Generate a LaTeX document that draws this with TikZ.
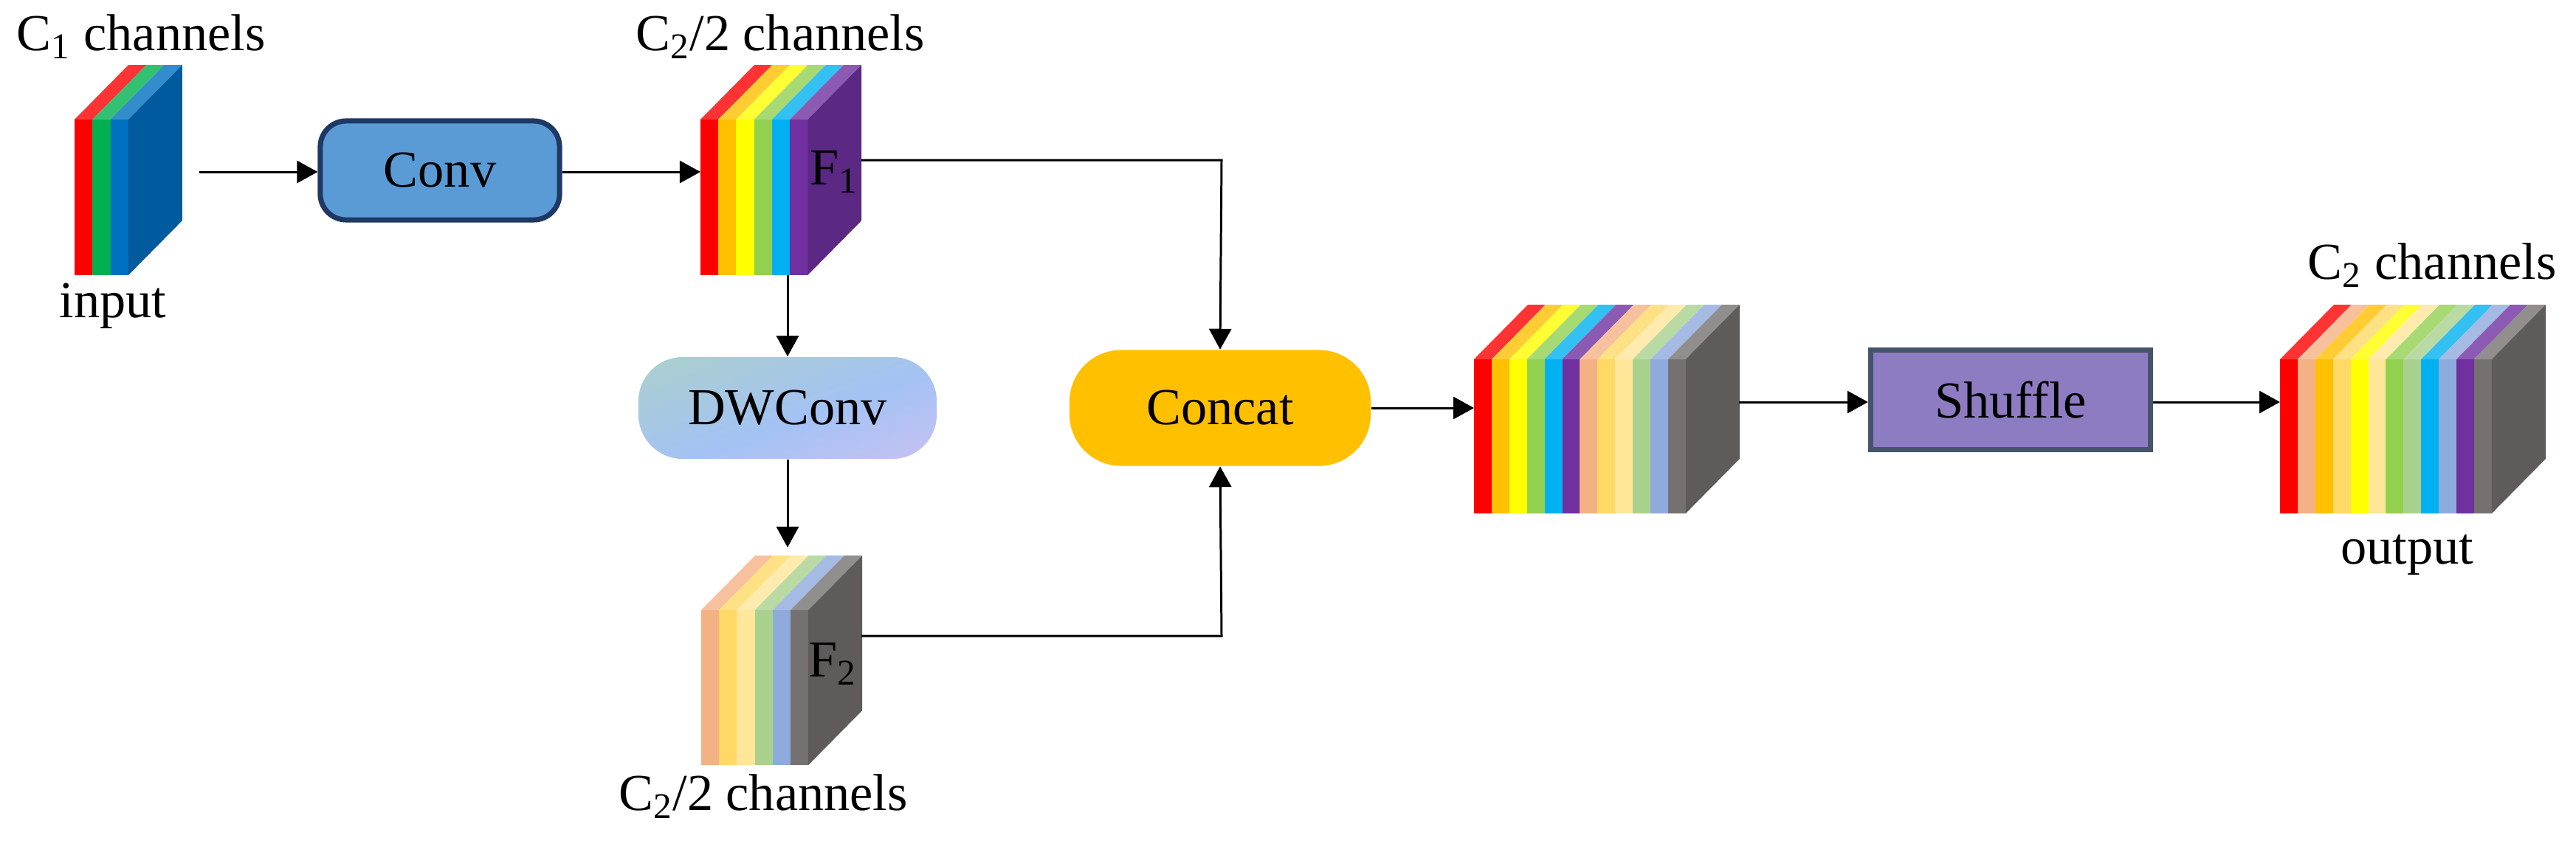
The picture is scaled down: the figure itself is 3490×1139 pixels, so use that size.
\documentclass[tikz,border=0pt]{standalone}
\usepackage{fontspec}
\setmainfont{Liberation Serif}
\usetikzlibrary{arrows.meta}
\definecolor{cR}{HTML}{FF0000}\definecolor{cO}{HTML}{FFC000}\definecolor{cY}{HTML}{FFFF00}
\definecolor{cG}{HTML}{92D050}\definecolor{cC}{HTML}{00B0F0}\definecolor{cP}{HTML}{7030A0}
\definecolor{cPe}{HTML}{F4B183}\definecolor{cGo}{HTML}{FFD966}\definecolor{cCr}{HTML}{FFE699}
\definecolor{cSg}{HTML}{A9D18E}\definecolor{cLb}{HTML}{8FAADC}\definecolor{cGr}{HTML}{767171}
\definecolor{cGs}{HTML}{5F5B5A}\definecolor{cIG}{HTML}{00B050}\definecolor{cIB}{HTML}{0070C0}
\definecolor{cIS}{HTML}{005A9E}\definecolor{cPS}{HTML}{5B2884}
\definecolor{convF}{HTML}{5B9BD5}\definecolor{convD}{HTML}{1F3864}
\definecolor{shufF}{HTML}{8E7CC3}\definecolor{shufD}{HTML}{44546A}
\definecolor{dwA}{HTML}{DCC3F0}\definecolor{dwB}{HTML}{A4C2F4}\definecolor{dwC}{HTML}{AED6B8}
\pgfdeclarehorizontalshading{dwshade}{100bp}{color(0bp)=(dwA); color(45bp)=(dwB); color(100bp)=(dwC)}
\newcommand\fmstack[8]{% x0, top, bottom, width, n, colors, side, name
  \foreach \c [count=\i from 0] in {#6} {
    \pgfmathsetmacro\xa{#1+\i*#4}\pgfmathsetmacro\xb{#1+(\i+1)*#4}
    \fill[\c] (\xa,#3) rectangle (\xb,#2);
    \fill[\c!80!white] (\xa,#2) -- (\xa+73,#2-74) -- (\xb+73,#2-74) -- (\xb,#2) -- cycle;
  }
  \pgfmathsetmacro\xe{#1+#5*#4}
  \fill[#7] (\xe,#2) -- (\xe+73,#2-74) -- (\xe+73,#3-74) -- (\xe,#3) -- cycle;
  \coordinate (#8-l) at (#1,{(#2+#3)/2});
  \coordinate (#8-r) at (\xe+73,{(#2+#3)/2-74/2});
  \coordinate (#8-s) at (\xe+36,{(#2+#3)/2-37});
}
\tikzset{
  txt/.style={font=\fontsize{20}{24}\selectfont, inner sep=0pt},
  arr/.style={line width=0.85pt, -{Triangle[length=0.28cm,width=0.3cm]}},
  ln/.style={line width=0.85pt},
}
\begin{document}
\begin{tikzpicture}[x=0.01cm,y=-0.01cm]
\useasboundingbox (0,0) rectangle (3490,1139);
% stacks
\fmstack{101}{162}{373}{24.3}{3}{cR,cIG,cIB}{cIS}{in}
\fmstack{949}{162}{373}{24.2}{6}{cR,cO,cY,cG,cC,cP}{cPS}{fa}
\fmstack{950}{827}{1037}{24.2}{6}{cPe,cGo,cCr,cSg,cLb,cGr}{cGs}{fb}
\fmstack{1997}{487}{696}{23.9}{12}{cR,cO,cY,cG,cC,cP,cPe,cGo,cCr,cSg,cLb,cGr}{cGs}{cat}
\fmstack{3089}{487}{696}{23.9}{12}{cR,cPe,cO,cGo,cY,cCr,cG,cSg,cC,cLb,cP,cGr}{cGs}{out}
% labels
\node[txt] (l1) at (191,50) {C\textsubscript{1} channels};
\node[txt] (l2) at (153,415) {input};
\node[txt] (l3) at (1057,50) {C\textsubscript{2}/2 channels};
\node[txt] (l4) at (1034,1080) {C\textsubscript{2}/2 channels};
\node[txt] (l5) at (3295,360) {C\textsubscript{2} channels};
\node[txt] (l6) at (3261,752) {output};
\node[txt] (F1) at (1130,233) {F\textsubscript{1}};
\node[txt] (F2) at (1128,900) {F\textsubscript{2}};
% boxes
\node[txt, draw=convD, line width=2pt, fill=convF, rounded corners=0.35cm, minimum width=3.24cm, minimum height=1.34cm] (conv) at (596,231) {Conv};
\node[txt, shading=dwshade, shading angle=110, rounded corners=0.6cm, minimum width=4.04cm, minimum height=1.38cm] (dw) at (1067,553) {DWConv};
\node[txt, fill=cO, rounded corners=0.7cm, minimum width=4.08cm, minimum height=1.57cm] (concat) at (1653,553) {Concat};
\node[txt, draw=shufD, line width=2pt, fill=shufF, minimum width=3.79cm, minimum height=1.34cm] (shuf) at (2724,542) {Shuffle};
% connectors
\coordinate (a0) at (270,233);
\draw[arr] (a0) -- (conv.west |- a0);
\draw[arr] (conv.east |- a0) -- (949,233);
\coordinate (f1o) at (1167,217);
\draw[arr] (f1o) -- (1655,217) -- (concat.north);
\coordinate (f1b) at (1067,373);
\draw[arr] (f1b) -- (dw.north);
\coordinate (f2t) at (1067,742);
\draw[arr] (dw.south) -- (f2t);
\coordinate (f2o) at (1167,862);
\draw[arr] (f2o) -- (1655,862) -- (concat.south);
\draw[arr] (concat.east) -- (cat-l |- concat.east);
\coordinate (c1) at (2356,545);
\draw[arr] (c1) -- (shuf.west |- c1);
\draw[arr] (shuf.east |- c1) -- (out-l |- c1);
\end{tikzpicture}
\end{document}
